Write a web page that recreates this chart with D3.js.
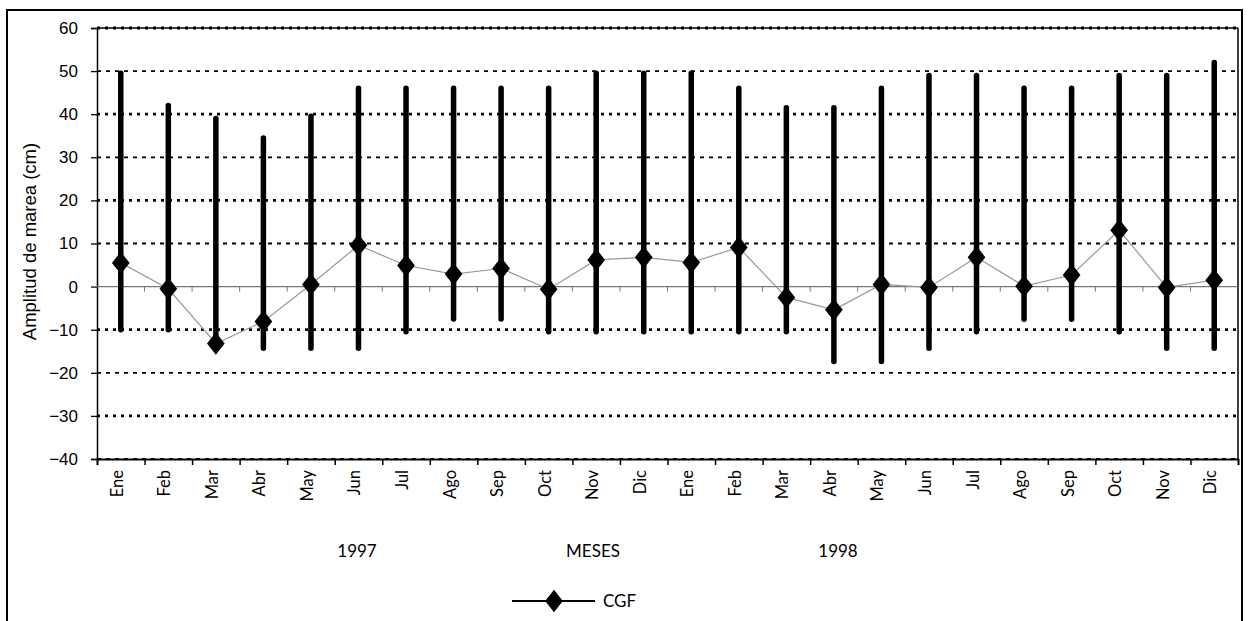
<!DOCTYPE html>
<html>
<head>
<meta charset="utf-8">
<script src="https://cdn.jsdelivr.net/npm/d3@7"></script>
<style>
  body { margin: 0; background: #fff; }
  svg { display: block; }
</style>
</head>
<body>
<div id="chart"></div>
<script>
// months shown on the x axis (two years)
const months = ['Ene','Feb','Mar','Abr','May','Jun','Jul','Ago','Sep','Oct','Nov','Dic',
                'Ene','Feb','Mar','Abr','May','Jun','Jul','Ago','Sep','Oct','Nov','Dic'];
// max / min tidal amplitude per month (cm)
const maxValues = [49.5, 42, 39, 34.5, 39.5, 46, 46, 46, 46, 46, 49.5, 49.5,
                   49.5, 46, 41.5, 41.5, 46, 49, 49, 46, 46, 49, 49, 52];
const minValues = [-10, -10, -14, -14.3, -14.3, -14.3, -10.5, -7.5, -7.5, -10.5, -10.5, -10.5,
                   -10.5, -10.5, -10.5, -17.4, -17.4, -14.3, -10.5, -7.6, -7.6, -10.5, -14.3, -14.3];
// mean value (CGF series)
const cgfValues = [5.5, -0.5, -13.2, -8.1, 0.5, 9.6, 4.9, 2.9, 4.2, -0.6, 6.2, 6.8,
                   5.6, 9.1, -2.5, -5.4, 0.5, -0.2, 6.8, 0.1, 2.7, 13.1, -0.2, 1.5];
const yTicks = [60, 50, 40, 30, 20, 10, 0, -10, -20, -30, -40];
const heavyGrid = [40, 20, -10, -30];

const W = 1249, H = 621;
const margin = { top: 28, right: 11, bottom: 162, left: 97 };
const width = W - margin.left - margin.right,
      height = H - margin.top - margin.bottom;

const svg = d3.select('#chart').append('svg')
    .attr('width', W)
    .attr('height', H);

// outer frame
svg.append('rect')
    .attr('x', 7).attr('y', 10)
    .attr('width', 1235).attr('height', 620)
    .attr('fill', 'none')
    .attr('stroke', '#000')
    .attr('stroke-width', 2);

const g = svg.append('g')
    .attr('transform', `translate(${margin.left},${margin.top})`);

const idx = months.map((m, i) => i);
const x = d3.scaleBand().domain(idx).range([0, width]).padding(0);
const y = d3.scaleLinear().domain([-40, 60]).range([height, 0]);
const cx = i => x(i) + x.bandwidth() / 2;

// dotted gridlines
g.selectAll('.grid')
    .data(yTicks.filter(d => d !== 0))
    .enter().append('line')
    .attr('class', 'grid')
    .attr('x1', 0).attr('x2', width)
    .attr('y1', d => y(d)).attr('y2', d => y(d))
    .attr('stroke', '#000')
    .attr('stroke-width', d => heavyGrid.includes(d) || d === 60 ? 2.8 : 1.8)
    .attr('stroke-dasharray', d => heavyGrid.includes(d) || d === 60 ? '3,5' : '4,5');

// plot frame
g.append('line').attr('x1', 0).attr('x2', width).attr('y1', 0).attr('y2', 0)
    .attr('stroke', '#000').attr('stroke-width', 1.5);
g.append('line').attr('x1', width).attr('x2', width).attr('y1', 0).attr('y2', height)
    .attr('stroke', '#000').attr('stroke-width', 1.5);

// y axis
const yAxis = g.append('g')
    .call(d3.axisLeft(y).tickValues(yTicks).tickSize(6).tickPadding(13));
yAxis.select('.domain').attr('stroke-width', 1.5);
yAxis.selectAll('.tick line').attr('stroke-width', 1.3);
yAxis.selectAll('text')
    .style('font-family', '"Liberation Sans", Arial, sans-serif')
    .style('font-size', '17px')
    .attr('fill', '#000');

// bottom axis with ticks on band boundaries
const xb = d3.scaleLinear().domain([0, months.length]).range([0, width]);
const xAxis = g.append('g')
    .attr('transform', `translate(0,${height})`)
    .call(d3.axisBottom(xb).tickValues(d3.range(1, months.length)).tickSize(6).tickFormat(''));
xAxis.select('.domain').attr('stroke-width', 2);
xAxis.selectAll('.tick line').attr('stroke-width', 1.5);

// month labels
g.selectAll('.month')
    .data(months)
    .enter().append('text')
    .attr('class', 'month')
    .attr('transform', (d, i) => `translate(${cx(i) + 2},${height + 11}) rotate(-90)`)
    .attr('text-anchor', 'end')
    .style('font-family', 'Lato, "Open Sans", sans-serif')
    .style('font-size', '16.5px')
    .text(d => d);

// zero line with small ticks
g.append('line')
    .attr('x1', -6).attr('x2', width)
    .attr('y1', y(0)).attr('y2', y(0))
    .attr('stroke', '#777').attr('stroke-width', 1.2);
g.selectAll('.ztick')
    .data(d3.range(1, months.length))
    .enter().append('line')
    .attr('class', 'ztick')
    .attr('x1', d => xb(d)).attr('x2', d => xb(d))
    .attr('y1', y(0)).attr('y2', y(0) + 5)
    .attr('stroke', '#777').attr('stroke-width', 1);

// range bars
g.selectAll('.bar')
    .data(idx)
    .enter().append('line')
    .attr('class', 'bar')
    .attr('x1', i => cx(i)).attr('x2', i => cx(i))
    .attr('y1', i => y(maxValues[i])).attr('y2', i => y(minValues[i]))
    .attr('stroke', '#000')
    .attr('stroke-width', 5.5)
    .attr('stroke-linecap', 'round');

// CGF line
const line = d3.line().x(i => cx(i)).y(i => y(cgfValues[i]));
g.append('path')
    .datum(idx)
    .attr('d', line)
    .attr('fill', 'none')
    .attr('stroke', '#999')
    .attr('stroke-width', 1.2);

const diamond = d3.symbol().type(d3.symbolDiamond).size(160);
g.selectAll('.pt')
    .data(idx)
    .enter().append('path')
    .attr('class', 'pt')
    .attr('d', diamond)
    .attr('transform', i => `translate(${cx(i)},${y(cgfValues[i])}) scale(1.3,0.95)`)
    .attr('fill', '#000');

// y axis title
svg.append('text')
    .attr('transform', `translate(36,${margin.top + height / 2 - 2}) rotate(-90)`)
    .attr('text-anchor', 'middle')
    .style('font-family', '"Liberation Sans", Arial, sans-serif')
    .style('font-size', '18.5px')
    .text('Amplitud de marea (cm)');

// year and axis captions
const captionFont = 'Lato, "Open Sans", sans-serif';
[['1997', 357], ['MESES', 593], ['1998', 838]].forEach(([t, px]) => {
    svg.append('text')
        .attr('x', px).attr('y', 557)
        .attr('text-anchor', 'middle')
        .style('font-family', captionFont)
        .style('font-size', '17px')
        .text(t);
});

// legend
const lg = svg.append('g').attr('transform', 'translate(512,601)');
lg.append('line').attr('x1', 0).attr('x2', 83).attr('y1', 0).attr('y2', 0)
    .attr('stroke', '#000').attr('stroke-width', 2);
lg.append('path').attr('d', diamond).attr('transform', 'translate(42,0) scale(1.3,0.95)')
    .attr('fill', '#000');
lg.append('text').attr('x', 91).attr('y', 6)
    .style('font-family', captionFont)
    .style('font-size', '17px')
    .text('CGF');
</script>
</body>
</html>
